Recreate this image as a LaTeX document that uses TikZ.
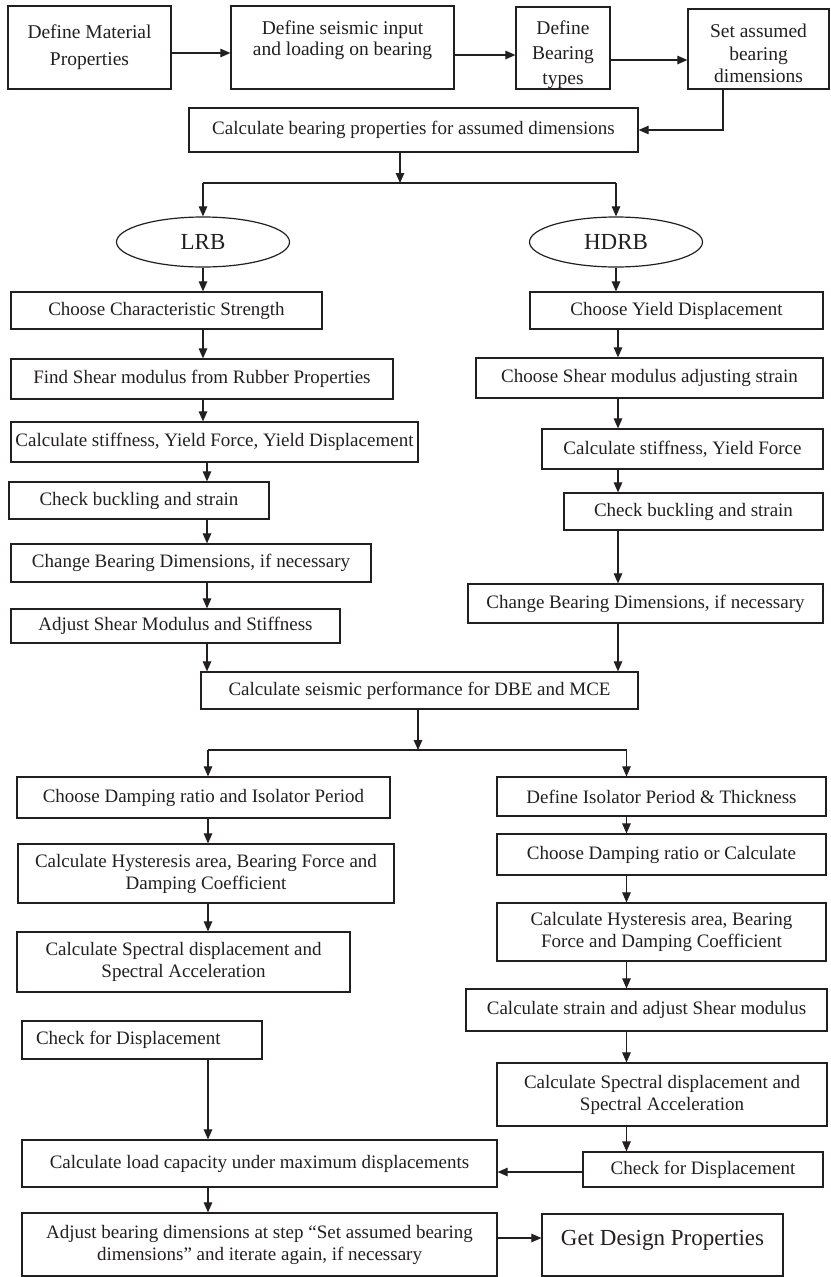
\documentclass[tikz,border=0pt]{standalone}
\usepackage{fontspec}
\setmainfont{Liberation Serif}
\usetikzlibrary{arrows.meta,shapes.geometric}
\definecolor{ink}{RGB}{35,31,32}
\newcommand\mkbox[7]{\node[bx,#1,minimum width={(#5)-(#3)},minimum height={(#6)-(#4)}] (#2) at ({((#3)+(#5))/2},{((#4)+(#6))/2}) {#7};}
\begin{document}
\begin{tikzpicture}[x=1pt,y=-1pt,
  bx/.style={draw=ink,line width=1.2pt,rectangle,inner sep=0pt,align=center,text=ink,
    font=\fontsize{19}{22}\selectfont},
  ell/.style={draw=ink,line width=1.2pt,ellipse,inner sep=0pt,text=ink,
    font=\fontsize{23}{26}\selectfont,minimum width=173pt,minimum height=50pt},
  arr/.style={draw=ink,line width=1.1pt,-{Triangle[length=10pt,width=8.5pt]}},
  ln/.style={draw=ink,line width=1.1pt}]
\useasboundingbox (0,0) rectangle (830,1277);
% top row
\mkbox{font=\fontsize{19.5}{27}\selectfont}{A}{8}{6}{171}{89}{Define Material\\Properties}
\mkbox{font=\fontsize{19.5}{21}\selectfont}{B}{231}{6}{454}{89}{\raisebox{2pt}[0pt][0pt]{\begin{tabular}{@{}c@{}}Define seismic input\\and loading on bearing\end{tabular}}}
\mkbox{font=\fontsize{19.5}{25}\selectfont}{C}{516}{7}{610}{89}{\raisebox{-12pt}[0pt][0pt]{\begin{tabular}{@{}c@{}}Define\\Bearing\\types\end{tabular}}}
\mkbox{font=\fontsize{19.5}{22.5}\selectfont}{D}{688}{9}{829}{89}{\raisebox{-12pt}[0pt][0pt]{\begin{tabular}{@{}c@{}}Set assumed\\bearing\\dimensions\end{tabular}}}
\mkbox{}{E}{189}{108}{638}{152}{Calculate bearing properties for assumed dimensions}
% ellipses
\node[ell] (LRB) at (203,242) {LRB};
\node[ell] (HDRB) at (616,242) {HDRB};
% left chain
\mkbox{}{L1}{11}{292}{322}{329}{Choose Characteristic Strength}
\mkbox{}{L2}{11}{359}{393}{399}{Find Shear modulus from Rubber Properties}
\mkbox{}{L3}{11}{422}{418}{462}{Calculate stiffness, Yield Force, Yield Displacement}
\mkbox{}{L4}{9}{482}{269}{519}{Check buckling and strain}
\mkbox{}{L5}{11}{544}{371}{582}{Change Bearing Dimensions, if necessary}
\mkbox{}{L6}{11}{609}{340}{643}{Adjust Shear Modulus and Stiffness}
% right chain
\mkbox{}{R1}{530}{292}{823}{329}{Choose Yield Displacement}
\mkbox{}{R2}{476}{358}{823}{398}{Choose Shear modulus adjusting strain}
\mkbox{}{R3}{542}{429}{823}{469}{Calculate stiffness, Yield Force}
\mkbox{}{R4}{564}{493}{823}{530}{Check buckling and strain}
\mkbox{}{R5}{468}{584}{823}{623}{Change Bearing Dimensions, if necessary}
% seismic
\mkbox{}{S}{201}{672}{638}{709}{Calculate seismic performance for DBE and MCE}
% left chain 2
\mkbox{}{P1}{17}{777}{390}{818}{Choose Damping ratio and Isolator Period}
\mkbox{}{P2}{18}{844}{394}{903}{Calculate Hysteresis area, Bearing Force and\\Damping Coefficient}
\mkbox{}{P3}{17}{932}{350}{992}{Calculate Spectral displacement and\\Spectral Acceleration}
\mkbox{}{P4}{22}{1021}{262}{1059}{\makebox[212pt][l]{Check for Displacement}}
\mkbox{}{P5}{22}{1140}{497}{1187}{Calculate load capacity under maximum displacements}
\mkbox{}{P6}{22}{1213}{497}{1276}{Adjust bearing dimensions at step “Set assumed bearing\\dimensions” and iterate again, if necessary}
\mkbox{font=\fontsize{23}{26}\selectfont}{G}{542}{1214}{783}{1276}{\raisebox{0pt}[0pt][0pt]{Get Design Properties}}
% right chain 2
\mkbox{}{Q1}{497}{777}{826}{816}{Define Isolator Period \& Thickness}
\mkbox{}{Q2}{497}{834}{826}{875}{Choose Damping ratio or Calculate}
\mkbox{}{Q3}{497}{903}{826}{961}{Calculate Hysteresis area, Bearing\\Force and Damping Coefficient}
\mkbox{}{Q4}{466}{989}{827}{1031}{Calculate strain and adjust Shear modulus}
\mkbox{}{Q5}{497}{1063}{827}{1126}{Calculate Spectral displacement and\\Spectral Acceleration}
\mkbox{}{Q6}{583}{1152}{823}{1187}{Check for Displacement}
% helper coordinates
\coordinate (cl) at (203,0);
\coordinate (cl2) at (207,0);
\coordinate (cr) at (618,0);
\coordinate (cl3) at (208,0);
\coordinate (cr3) at (626.5,0);
\coordinate (s1) at (400,183);
\coordinate (s1l) at (203,183);
\coordinate (s1r) at (616,183);
\coordinate (s2) at (418,750);
\coordinate (s2l) at (208,750);
\coordinate (s2r) at (626.5,750);
% top connectors
\draw[arr] (A.east |- 0,53) -- (B.west |- 0,53);
\draw[arr] (B.east |- 0,55) -- (C.west |- 0,55);
\draw[arr] (C.east |- 0,60) -- (D.west |- 0,60);
\draw[arr] (D.south -| 723,0) |- (E.east);
\draw[arr] (E.south -| s1) -- (s1);
\draw[ln] (s1l) -- (s1r);
\draw[arr] (s1l) -- (LRB.north);
\draw[arr] (s1r) -- (HDRB.north);
% left chain
\draw[arr] (LRB.south) -- (L1.north -| LRB.south);
\draw[arr] (L1.south -| cl) -- (L2.north -| cl);
\draw[arr] (L2.south -| cl) -- (L3.north -| cl);
\draw[arr] (L3.south -| cl2) -- (L4.north -| cl2);
\draw[arr] (L4.south -| cl2) -- (L5.north -| cl2);
\draw[arr] (L5.south -| cl2) -- (L6.north -| cl2);
\draw[arr] (L6.south -| cl2) -- (S.north -| cl2);
% right chain
\draw[arr] (HDRB.south) -- (R1.north -| HDRB.south);
\draw[arr] (R1.south -| cr) -- (R2.north -| cr);
\draw[arr] (R2.south -| cr) -- (R3.north -| cr);
\draw[arr] (R3.south -| cr) -- (R4.north -| cr);
\draw[arr] (R4.south -| cr) -- (R5.north -| cr);
\draw[arr] (R5.south -| cr) -- (S.north -| cr);
% split 2
\draw[arr] (S.south -| s2) -- (s2);
\draw[ln] (s2l) -- (s2r);
\draw[arr] (s2l) -- (P1.north -| s2l);
\draw[arr] (s2r) -- (Q1.north -| s2r);
% left chain 2
\draw[arr] (P1.south -| cl3) -- (P2.north -| cl3);
\draw[arr] (P2.south -| cl3) -- (P3.north -| cl3);
\draw[arr] (P4.south -| cl3) -- (P5.north -| cl3);
\draw[arr] (P5.south -| cl3) -- (P6.north -| cl3);
\draw[arr] (P6.east |- 0,1238) -- (G.west |- 0,1238);
% right chain 2
\draw[arr] (Q1.south -| cr3) -- (Q2.north -| cr3);
\draw[arr] (Q2.south -| cr3) -- (Q3.north -| cr3);
\draw[arr] (Q3.south -| cr3) -- (Q4.north -| cr3);
\draw[arr] (Q4.south -| cr3) -- (Q5.north -| cr3);
\draw[arr] (Q5.south -| cr3) -- (Q6.north -| cr3);
\draw[arr] (Q6.west |- 0,1172) -- (P5.east |- 0,1172);
\end{tikzpicture}
\end{document}
